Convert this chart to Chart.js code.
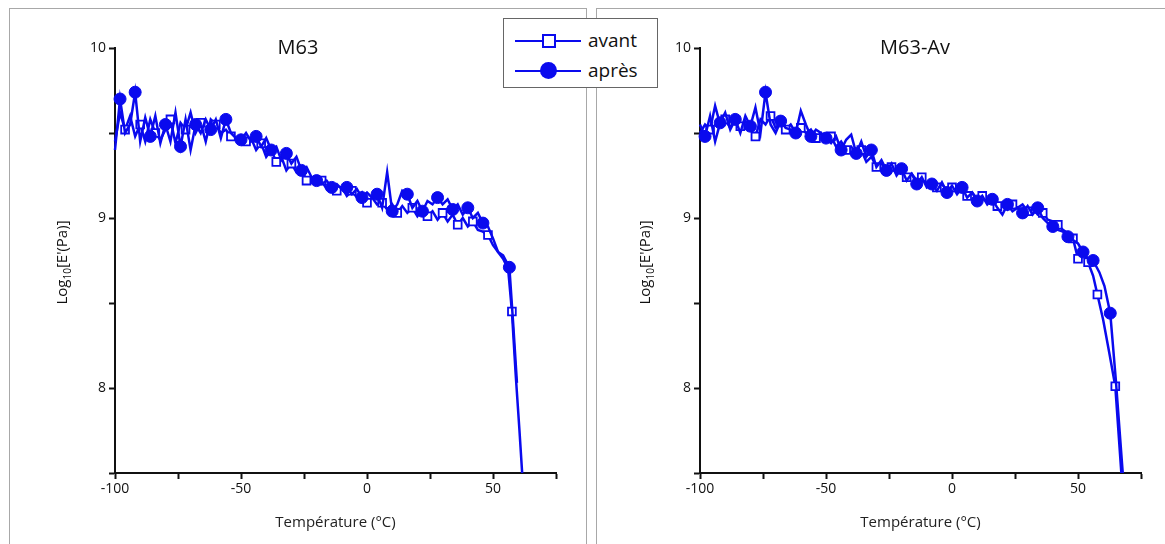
<!DOCTYPE html>
<html>
<head>
<meta charset="utf-8">
<script src="https://cdn.jsdelivr.net/npm/chart.js@4.4.1/dist/chart.umd.min.js"></script>
<style>
  html, body { margin:0; padding:0; background:#fff; }
  body { width:1165px; height:544px; position:relative; overflow:hidden; font-family:"Open Sans", sans-serif; }
  .frame { position:absolute; border:1px solid #a8a8a8; box-sizing:border-box; }
  canvas { position:absolute; top:0; }
  #legend { position:absolute; left:503px; top:18px; width:155px; height:70px; background:#fff; border:1px solid #666; box-sizing:border-box; z-index:5; }
  .li { position:absolute; left:0; width:153px; height:30px; }
  .li .ln { position:absolute; left:11px; width:66px; top:14px; height:2px; background:#0a0aee; }
  .li .mk { position:absolute; }
  .li .tx { position:absolute; left:84px; top:2px; font-size:19px; color:#111; line-height:24px; }
</style>
</head>
<body>
<div class="frame" style="left:9px;top:8px;width:578px;height:560px;"></div>
<div class="frame" style="left:596px;top:8px;width:600px;height:560px;"></div>
<canvas id="c1" width="590" height="544" style="left:0"></canvas>
<canvas id="c2" width="575" height="544" style="left:590px"></canvas>
<div id="legend">
  <div class="li" style="top:7px"><div class="ln"></div><div class="mk" style="left:38px;top:8px;width:10px;height:10px;border:2px solid #0a0aee;background:#fff;"></div><div class="tx">avant</div></div>
  <div class="li" style="top:37px"><div class="ln"></div><div class="mk" style="left:36px;top:6px;width:17px;height:17px;border-radius:50%;background:#0a0aee;"></div><div class="tx">après</div></div>
</div>
<script>
// ---------- data ----------
const seriesNames = ["avant", "après"];
const panelTitles = ["M63", "M63-Av"];
const xTicks = [-100, -50, 0, 50];
const yTicks = [8, 9, 10];

// Left panel (M63) - avant
const leftAvantT = [-100,-98,-96,-94,-92,-90,-88,-86,-84,-82,-80,-78,-76,-74,-72,-70,-68,-66,-64,-62,-60,-58,-56,-54,-52,-50,-48,-46,-44,-42,-40,-38,-36,-34,-32,-30,-28,-26,-24,-22,-20,-18,-16,-14,-12,-10,-8,-6,-4,-2,0,2,4,6,8,10,12,14,16,18,20,22,24,26,28,30,32,34,36,38,40,42,44,46,48,50,52,54,56,57.5,59,60.5,62];
const leftAvantV = [9.45,9.62,9.52,9.60,9.48,9.55,9.45,9.58,9.50,9.46,9.52,9.58,9.44,9.56,9.52,9.62,9.50,9.56,9.45,9.58,9.55,9.50,9.52,9.48,9.46,9.48,9.45,9.47,9.40,9.44,9.36,9.40,9.33,9.36,9.28,9.32,9.27,9.29,9.22,9.24,9.20,9.22,9.17,9.20,9.16,9.18,9.13,9.16,9.12,9.15,9.09,9.12,9.08,9.09,9.05,9.08,9.03,9.07,9.03,9.06,9.01,9.05,9.01,9.04,8.99,9.03,8.98,9.02,8.96,9.00,8.95,8.98,8.93,8.92,8.90,8.84,8.80,8.76,8.70,8.45,8.08,7.75,7.40];
// Left panel (M63) - après
const leftApresT = [-100,-98,-96,-94,-92,-90,-88,-86,-84,-82,-80,-78,-76,-74,-72,-70,-68,-66,-64,-62,-60,-58,-56,-54,-52,-50,-48,-46,-44,-42,-40,-38,-36,-34,-32,-30,-28,-26,-24,-22,-20,-18,-16,-14,-12,-10,-8,-6,-4,-2,0,2,4,6,8,10,12,14,16,18,20,22,24,26,28,30,32,34,36,38,40,42,44,46,48,50,52,54,56.5,58,59.5];
const leftApresV = [9.40,9.70,9.50,9.55,9.74,9.45,9.59,9.48,9.60,9.44,9.55,9.45,9.62,9.42,9.58,9.40,9.55,9.50,9.58,9.52,9.58,9.47,9.58,9.50,9.47,9.46,9.50,9.45,9.48,9.42,9.47,9.40,9.42,9.34,9.38,9.32,9.36,9.28,9.30,9.24,9.22,9.20,9.22,9.18,9.20,9.17,9.18,9.14,9.17,9.12,9.15,9.12,9.14,9.06,9.27,9.04,9.08,9.16,9.14,9.06,9.10,9.04,9.10,9.08,9.12,9.08,9.11,9.05,9.08,9.02,9.06,9.00,9.03,8.97,8.95,8.88,8.80,8.78,8.71,8.38,8.03];

// Right panel (M63-Av) - avant
const rightAvantT = [-100,-98,-96,-94,-92,-90,-88,-86,-84,-82,-80,-78,-76,-74,-72,-70,-68,-66,-64,-62,-60,-58,-56,-54,-52,-50,-48,-46,-44,-42,-40,-38,-36,-34,-32,-30,-28,-26,-24,-22,-20,-18,-16,-14,-12,-10,-8,-6,-4,-2,0,2,4,6,8,10,12,14,16,18,20,22,24,26,28,30,32,34,36,38,40,42,44,46,48,50,52,54,56,57.7,60,62.5,64.8,67.2,68.5];
const rightAvantV = [9.50,9.55,9.52,9.66,9.55,9.58,9.53,9.60,9.54,9.57,9.52,9.48,9.58,9.55,9.60,9.53,9.56,9.52,9.55,9.50,9.53,9.50,9.52,9.47,9.50,9.45,9.48,9.42,9.45,9.40,9.42,9.38,9.40,9.33,9.36,9.30,9.32,9.28,9.30,9.26,9.28,9.24,9.26,9.22,9.24,9.20,9.22,9.18,9.20,9.16,9.18,9.15,9.17,9.13,9.15,9.11,9.13,9.09,9.11,9.07,9.09,9.05,9.08,9.06,9.08,9.04,9.06,9.02,9.03,8.99,8.98,8.96,8.93,8.91,8.88,8.76,8.80,8.74,8.66,8.55,8.40,8.20,8.01,7.50,7.25];
// Right panel (M63-Av) - après
const rightApresT = [-100,-98,-96,-94,-92,-90,-88,-86,-84,-82,-80,-78,-76,-74,-72,-70,-68,-66,-64,-62,-60,-58,-56,-54,-52,-50,-48,-46,-44,-42,-40,-38,-36,-34,-32,-30,-28,-26,-24,-22,-20,-18,-16,-14,-12,-10,-8,-6,-4,-2,0,2,4,6,8,10,12,14,16,18,20,22,24,26,28,30,32,34,36,38,40,42,44,46,48,50,52,54,56,58.5,60.5,62.8,65,68,69];
const rightApresV = [9.55,9.48,9.60,9.45,9.56,9.62,9.52,9.58,9.50,9.60,9.54,9.65,9.50,9.74,9.55,9.50,9.57,9.53,9.52,9.50,9.63,9.55,9.48,9.52,9.50,9.47,9.44,9.48,9.40,9.46,9.49,9.38,9.45,9.36,9.40,9.30,9.34,9.28,9.32,9.25,9.29,9.22,9.26,9.20,9.24,9.18,9.20,9.16,9.21,9.15,9.19,9.14,9.18,9.12,9.15,9.10,9.13,9.08,9.11,9.06,9.02,9.08,9.04,9.06,9.03,9.07,9.02,9.06,9.00,8.97,8.95,8.93,8.92,8.89,8.87,8.85,8.80,8.76,8.75,8.68,8.60,8.44,8.05,7.45,7.25];

// ---------- chart ----------
const BLUE = '#0a0aee';
const FONT = '"Open Sans", sans-serif';

function pts(T, V) { return T.map((t, i) => ({ x: t, y: V[i] })); }

function markerRadius(len, every, offset, r, extra) {
  return ctx => {
    const i = ctx.dataIndex;
    if (extra.includes(i)) return r;
    if (i >= len - 6) return 0;
    return (i % every === offset) ? r : 0;
  };
}

const decor = {
  id: 'decor',
  afterDraw(chart, args, o) {
    const c = chart.ctx, a = chart.chartArea;
    c.save();
    c.fillStyle = '#111';
    c.font = '20px ' + FONT;
    c.textAlign = 'center';
    c.textBaseline = 'middle';
    c.fillText(o.title, o.titleX, a.top);
    c.translate(o.ylabX, (a.top + a.bottom) / 2 + 2);
    c.rotate(-Math.PI / 2);
    c.textAlign = 'left';
    c.textBaseline = 'alphabetic';
    const p1 = 'Log', p2 = '10', p3 = "[E'(Pa)]";
    c.font = '15px ' + FONT;
    const w1 = c.measureText(p1).width, w3 = c.measureText(p3).width;
    c.font = '10px ' + FONT;
    const w2 = c.measureText(p2).width;
    let x = -(w1 + w2 + w3) / 2;
    c.font = '15px ' + FONT; c.fillText(p1, x, 5); x += w1;
    c.font = '10px ' + FONT; c.fillText(p2, x, 9); x += w2;
    c.font = '15px ' + FONT; c.fillText(p3, x, 5);
    c.restore();
  }
};

function makeChart(id, avT, avV, apT, apV, padRight, title, titleX, ylabX, avExtra, apExtra) {
  return new Chart(document.getElementById(id), {
    type: 'line',
    data: {
      datasets: [
        { label: seriesNames[0], data: pts(avT, avV), borderColor: BLUE, borderWidth: 2.5, tension: 0,
          pointStyle: 'rect', backgroundColor: '#fff', pointBackgroundColor: '#fff', pointBorderColor: BLUE, pointBorderWidth: 1.8,
          pointRadius: markerRadius(avT.length, 3, 2, 5.5, avExtra), clip: {left: 8, top: 8, right: 8, bottom: 0}, order: 2 },
        { label: seriesNames[1], data: pts(apT, apV), borderColor: BLUE, borderWidth: 2.5, tension: 0,
          pointStyle: 'circle', backgroundColor: BLUE, pointBackgroundColor: BLUE, pointBorderColor: BLUE, pointBorderWidth: 1,
          pointRadius: markerRadius(apT.length, 3, 1, 6, apExtra), clip: {left: 8, top: 8, right: 8, bottom: 0}, order: 1 }
      ]
    },
    options: {
      responsive: false, animation: false, devicePixelRatio: 1,
      layout: { padding: { left: 0, top: 48, right: padRight, bottom: 0 } },
      plugins: { legend: { display: false }, tooltip: { enabled: false },
                 decor: { title, titleX, ylabX } },
      elements: { point: { hoverRadius: 0 } },
      scales: {
        x: { type: 'linear', min: -100, max: 75,
             afterFit: s => { s.height = 71; },
             afterBuildTicks: s => { s.ticks = [-100,-75,-50,-25,0,25,50,75].map(v => ({ value: v })); },
             ticks: { color: '#111', font: { family: FONT, size: 14 }, padding: 2, maxRotation: 0,
                      callback: v => xTicks.includes(v) ? String(v) : '' },
             grid: { display: true, drawOnChartArea: false, drawTicks: true, tickLength: 6, color: '#111', tickWidth: 2 },
             border: { display: true, color: '#111', width: 2 },
             title: { display: true, text: 'Température (°C)', color: '#222', font: { family: FONT, size: 15 }, padding: { top: 0, bottom: 12 } } },
        y: { type: 'linear', min: 7.5, max: 10,
             afterFit: s => { s.width = s.chart.canvas.id === 'c1' ? 115 : 110; },
             afterBuildTicks: s => { s.ticks = [7.5, 8, 8.5, 9, 9.5, 10].map(v => ({ value: v })); },
             ticks: { color: '#111', font: { family: FONT, size: 14 }, padding: 3,
                      callback: v => yTicks.includes(v) ? String(v) : '' },
             grid: { display: true, drawOnChartArea: false, drawTicks: true, tickLength: 6, color: '#111', tickWidth: 2 },
             border: { display: true, color: '#111', width: 2 } }
      }
    },
    plugins: [decor]
  });
}

makeChart('c1', leftAvantT, leftAvantV, leftApresT, leftApresV, 34, panelTitles[0], 298, 62, [79], [78]);
makeChart('c2', rightAvantT, rightAvantV, rightApresT, rightApresV, 24, panelTitles[1], 325, 55, [75, 79, 82], [78, 81]);
</script>
</body>
</html>
